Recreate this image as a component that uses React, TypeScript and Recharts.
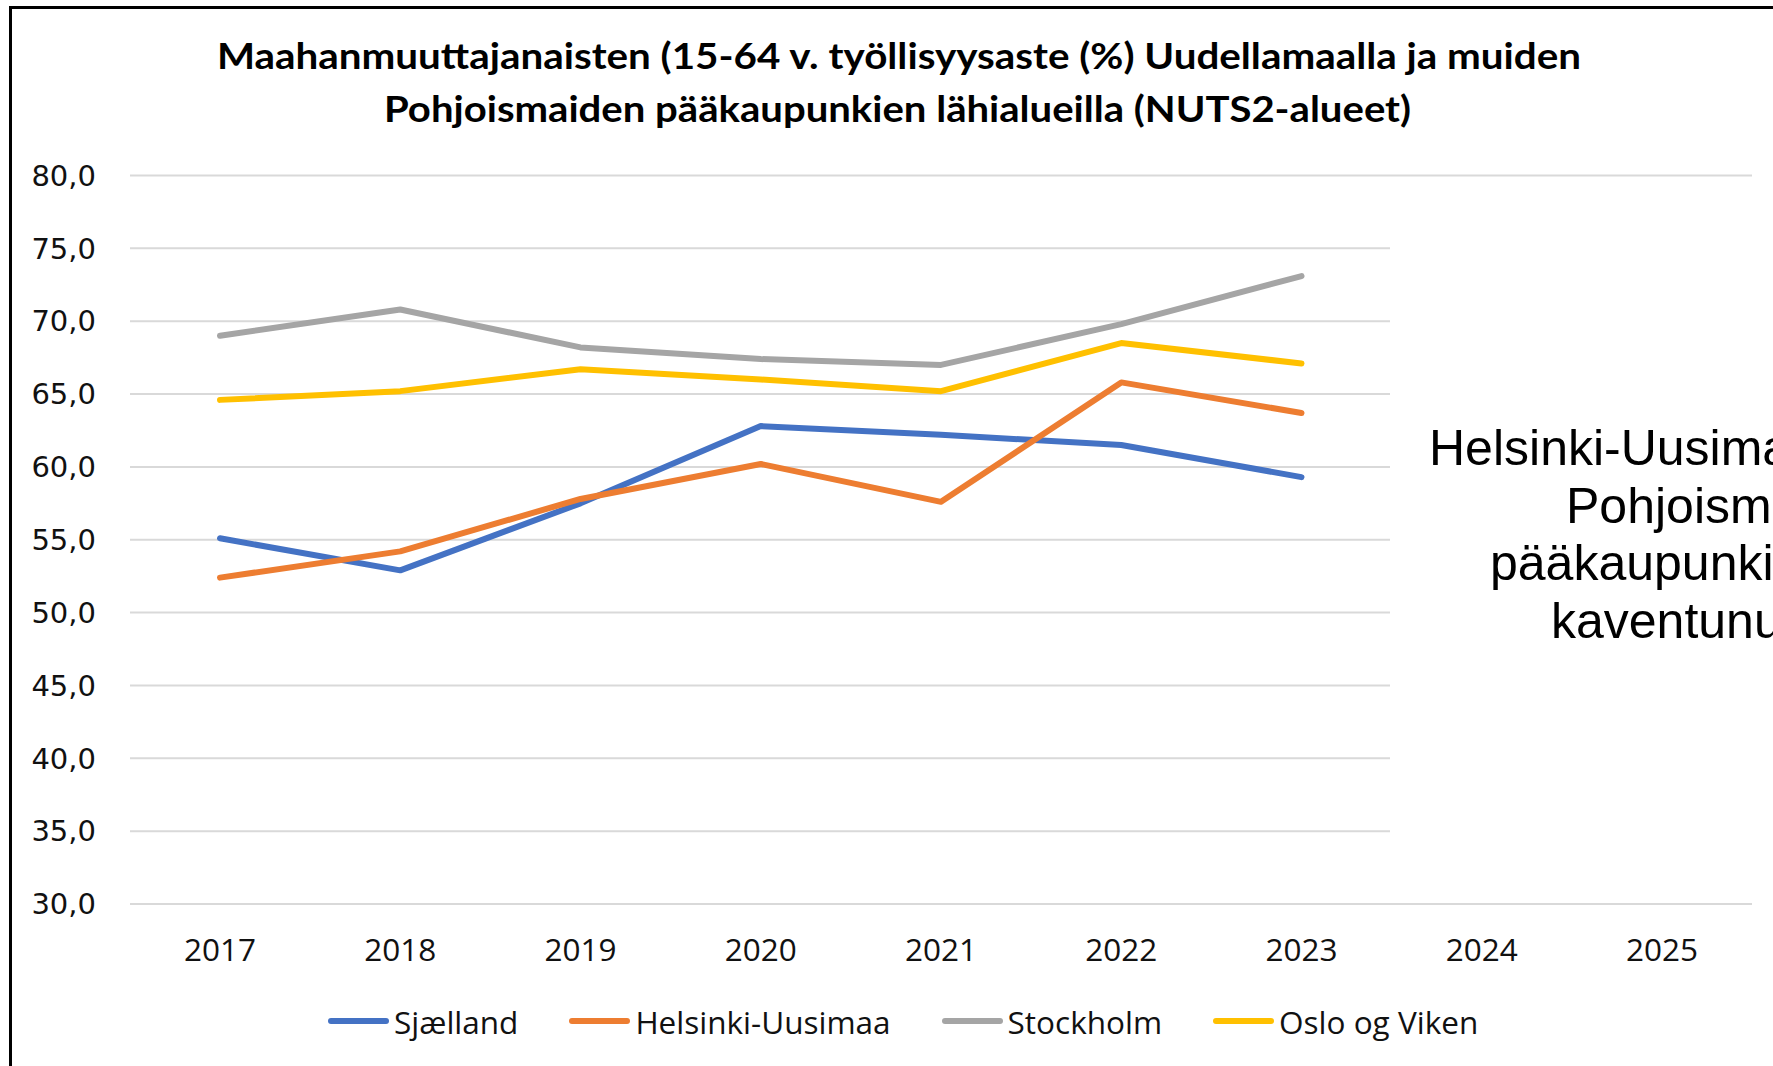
import React from 'react';
import { LineChart, Line, XAxis, YAxis, CartesianGrid } from 'recharts';

// ---- data ----
const years = ['2017', '2018', '2019', '2020', '2021', '2022', '2023', '2024', '2025'];
const sjaelland = [55.1, 52.9, 57.5, 62.8, 62.2, 61.5, 59.3, null, null];
const helsinkiUusimaa = [52.4, 54.2, 57.8, 60.2, 57.6, 65.8, 63.7, null, null];
const stockholm = [69.0, 70.8, 68.2, 67.4, 67.0, 69.8, 73.1, null, null];
const osloOgViken = [64.6, 65.2, 66.7, 66.0, 65.2, 68.5, 67.1, null, null];
const yTicks = [30, 35, 40, 45, 50, 55, 60, 65, 70, 75, 80];

const seriesNames = ['Sjælland', 'Helsinki-Uusimaa', 'Stockholm', 'Oslo og Viken'];
const seriesValues = [sjaelland, helsinkiUusimaa, stockholm, osloOgViken];
const seriesColors = ['#4472C4', '#ED7D31', '#A5A5A5', '#FFC000'];
const seriesKeys = ['s0', 's1', 's2', 's3'];

const titleLines = [
  'Maahanmuuttajanaisten (15-64 v. työllisyysaste (%) Uudellamaalla ja muiden',
  'Pohjoismaiden pääkaupunkien lähialueilla (NUTS2-alueet)',
];
const noteLines = ['Helsinki-Uusimaan', 'Pohjoismaiden', 'pääkaupunkiseutujen', 'kaventunut'];

const data = years.map((y, i) => {
  const row: any = { year: y };
  seriesKeys.forEach((k, s) => {
    row[k] = seriesValues[s][i];
  });
  return row;
});

const fmt = (v: number) => v.toFixed(1).replace('.', ',');

export default function App() {
  return (
    <div
      style={{
        position: 'absolute',
        left: 0,
        top: 0,
        width: 1773,
        height: 1066,
        overflow: 'hidden',
        background: '#fff',
      }}
    >
      {/* frame */}
      <div
        style={{
          position: 'absolute',
          left: 9,
          top: 6,
          width: 2000,
          height: 2000,
          borderLeft: '3px solid #000',
          borderTop: '3px solid #000',
        }}
      />
      {/* title */}
      <svg
        width={1773}
        height={150}
        style={{ position: 'absolute', left: 0, top: 0 }}
      >
        <text
          x={217}
          y={69}
          textLength={1364}
          lengthAdjust="spacingAndGlyphs"
          style={{ fontFamily: 'Lato, sans-serif', fontWeight: 700, fontSize: 36, fill: '#000' }}
        >
          {titleLines[0]}
        </text>
        <text
          x={384}
          y={122}
          textLength={1027}
          lengthAdjust="spacingAndGlyphs"
          style={{ fontFamily: 'Lato, sans-serif', fontWeight: 700, fontSize: 36, fill: '#000' }}
        >
          {titleLines[1]}
        </text>
      </svg>
      {/* chart */}
      <div style={{ position: 'absolute', left: 0, top: 0 }}>
        <LineChart
          width={1800}
          height={1066}
          data={data}
          margin={{ top: 175.5, left: 30, right: 48, bottom: 102 }}
        >
          <CartesianGrid vertical={false} stroke="#d9d9d9" strokeWidth={2} />
          <XAxis
            dataKey="year"
            axisLine={false}
            tickLine={false}
            tickSize={0}
            tickMargin={35}
            height={60}
            padding={{ left: 90, right: 90 }}
            interval={0}
            tick={{ fontFamily: '"Open Sans", sans-serif', fontSize: 31.5, fill: '#111' }}
          />
          <YAxis
            domain={[30, 80]}
            ticks={yTicks}
            interval={0}
            axisLine={false}
            tickLine={false}
            tickSize={0}
            tickMargin={34}
            width={100}
            tickFormatter={fmt}
            tick={{ fontFamily: '"DejaVu Sans", sans-serif', fontSize: 29, fill: '#111' }}
          />
          {seriesKeys.map((k, i) => (
            <Line
              key={k}
              type="linear"
              dataKey={k}
              name={seriesNames[i]}
              stroke={seriesColors[i]}
              strokeWidth={6}
              strokeLinecap="round"
              strokeLinejoin="round"
              dot={false}
              activeDot={false}
              isAnimationActive={false}
            />
          ))}
        </LineChart>
      </div>
      {/* overlapping text box */}
      <div
        style={{
          position: 'absolute',
          left: 1390,
          top: 200,
          width: 400,
          height: 680,
          background: '#fff',
        }}
      />
      {noteLines.map((t, i) => (
        <div
          key={i}
          style={{
            position: 'absolute',
            left: [1429, 1566, 1490, 1551][i],
            top: 447.8 + i * 57.7 - 30,
            height: 60,
            lineHeight: '60px',
            whiteSpace: 'nowrap',
            fontFamily: '"Liberation Sans", Arial, sans-serif',
            fontSize: 50,
            color: '#000',
          }}
        >
          {t}
        </div>
      ))}
      {/* legend */}
      <div
        style={{
          position: 'absolute',
          left: 328,
          top: 1021 - 25,
          height: 50,
          display: 'flex',
          alignItems: 'center',
          whiteSpace: 'nowrap',
        }}
      >
        {seriesNames.map((n, i) => (
          <div
            key={n}
            style={{ display: 'flex', alignItems: 'center', marginLeft: i === 0 ? 0 : 51 }}
          >
            <div
              style={{
                width: 61,
                height: 6,
                borderRadius: 3,
                background: seriesColors[i],
              }}
            />
            <span
              style={{
                marginLeft: 5,
                fontFamily: '"Open Sans", sans-serif',
                fontSize: 31.5,
                color: '#111',
              }}
            >
              {n}
            </span>
          </div>
        ))}
      </div>
    </div>
  );
}
